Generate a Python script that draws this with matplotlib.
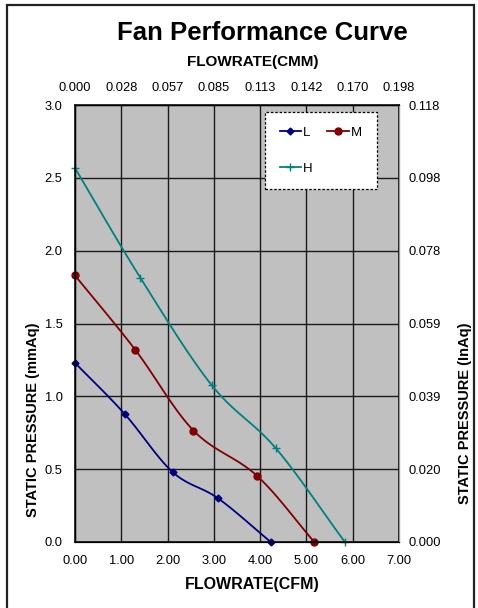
import numpy as np
import matplotlib
matplotlib.use('Agg')
import matplotlib.pyplot as plt
from matplotlib.patches import Rectangle

plt.rcParams['font.family'] = ['Liberation Sans', 'DejaVu Sans']

# data (CFM, mmAq)
l_cfm = [0.00, 1.07, 2.11, 3.09, 4.23]
l_mmaq = [1.23, 0.88, 0.48, 0.30, 0.00]
m_cfm = [0.00, 1.30, 2.56, 3.93, 5.17]
m_mmaq = [1.83, 1.32, 0.765, 0.455, 0.00]
h_cfm = [0.00, 1.41, 2.95, 4.34, 5.83]
h_mmaq = [2.567, 1.815, 1.078, 0.643, 0.00]

top_labels = ['0.000', '0.028', '0.057', '0.085', '0.113', '0.142', '0.170', '0.198']
right_labels = ['0.000', '0.020', '0.039', '0.059', '0.078', '0.098', '0.118']


# smooth curve like the spreadsheet does (Catmull-Rom through the points)
def smooth(xs, ys, n=30):
    p = np.column_stack([xs, ys])
    p = np.vstack([2 * p[0] - p[1], p, 2 * p[-1] - p[-2]])
    out = []
    for i in range(1, len(p) - 2):
        p0, p1, p2, p3 = p[i - 1], p[i], p[i + 1], p[i + 2]
        t = np.linspace(0, 1, n)[:, None]
        seg = 0.5 * ((2 * p1) + (-p0 + p2) * t + (2 * p0 - 5 * p1 + 4 * p2 - p3) * t ** 2
                     + (-p0 + 3 * p1 - 3 * p2 + p3) * t ** 3)
        out.append(seg)
    c = np.vstack(out)
    return c[:, 0], c[:, 1]


W, H = 478, 608
fig = plt.figure(figsize=(W / 100, H / 100), dpi=100)
fig.patches.append(Rectangle((7 / W, -0.01), 467 / W, 1 - 5 / H + 0.01,
                             transform=fig.transFigure, fill=False, edgecolor='#222222',
                             linewidth=1.6))

ax = fig.add_axes([75 / W, 1 - 542 / H, 324 / W, 437 / H])
ax.set_facecolor('#C0C0C0')
ax.set_xlim(0, 7)
ax.set_ylim(0, 3)
ax.set_xticks(np.arange(0, 8))
ax.set_xticklabels(['%.2f' % v for v in range(8)])
ax.set_yticks(np.arange(0, 3.01, 0.5))
ax.set_yticklabels(['%.1f' % v for v in np.arange(0, 3.01, 0.5)])
ax.grid(True, color='#1a1a1a', linewidth=1.0)
ax.set_axisbelow(True)
ax.tick_params(axis='x', length=0, labelsize=9.3, pad=9)
ax.tick_params(axis='y', length=0, labelsize=9.3, pad=9)
for s in ax.spines.values():
    s.set_color('#111111')
    s.set_linewidth(1.2)

series = [
    (l_cfm, l_mmaq, '#000080', 'D', 3.5, 'L'),
    (m_cfm, m_mmaq, '#800000', 'o', 5, 'M'),
    (h_cfm, h_mmaq, '#008080', '+', 6, 'H'),
]
handles = {}
for xs, ys, col, mk, ms, lab in series:
    sx, sy = smooth(xs, ys)
    ax.plot(sx, sy, color=col, linewidth=1.3, clip_on=False)
    ax.plot(xs, ys, linestyle='none', marker=mk, markersize=ms, color=col, clip_on=False)
    h, = ax.plot([], [], color=col, marker=mk, markersize=ms, linewidth=1.3, label=lab)
    handles[lab] = h

top = ax.twiny()
top.set_xlim(0, 7)
top.set_xticks(np.arange(0, 8))
top.set_xticklabels(top_labels)
top.tick_params(length=0, labelsize=9.3, pad=8)

right = ax.twinx()
right.set_ylim(0, 3)
right.set_yticks(np.arange(0, 3.01, 0.5))
right.set_yticklabels(right_labels)
right.tick_params(length=0, labelsize=9.3, pad=7)
right.spines['right'].set_color('#999999')

# legend filled by column, so order L, H, M gives rows "L M" / "H"
leg = right.legend(handles=[handles['L'], handles['H'], handles['M']], ncol=2,
                   loc='upper left', bbox_to_anchor=((265 - 75) / 324, (542 - 112) / 437),
                   fontsize=9.5, frameon=True, fancybox=False, framealpha=1,
                   handlelength=1.6, handletextpad=0.2, columnspacing=1.1,
                   labelspacing=1.8, borderpad=1.1, borderaxespad=0)
leg.get_frame().set_edgecolor('black')
leg.get_frame().set_facecolor('white')
leg.get_frame().set_linestyle((0, (2, 1.5)))
leg.get_frame().set_linewidth(0.9)

fig.text(262 / W, 1 - 33 / H, 'Fan Performance Curve', ha='center', va='center',
         fontsize=18.5, fontweight='bold')
fig.text(253 / W, 1 - 62 / H, 'FLOWRATE(CMM)', ha='center', va='center',
         fontsize=11, fontweight='bold')
fig.text(252 / W, 1 - 585 / H, 'FLOWRATE(CFM)', ha='center', va='center',
         fontsize=11.5, fontweight='bold')
fig.text(33 / W, 1 - 420 / H, 'STATIC PRESSURE (mmAq)', ha='center', va='center',
         rotation=90, fontsize=10.5, fontweight='bold')
fig.text(465 / W, 1 - 413 / H, 'STATIC PRESSURE (InAq)', ha='center', va='center',
         rotation=90, fontsize=10.5, fontweight='bold')

fig.savefig('out.png', dpi=100)
